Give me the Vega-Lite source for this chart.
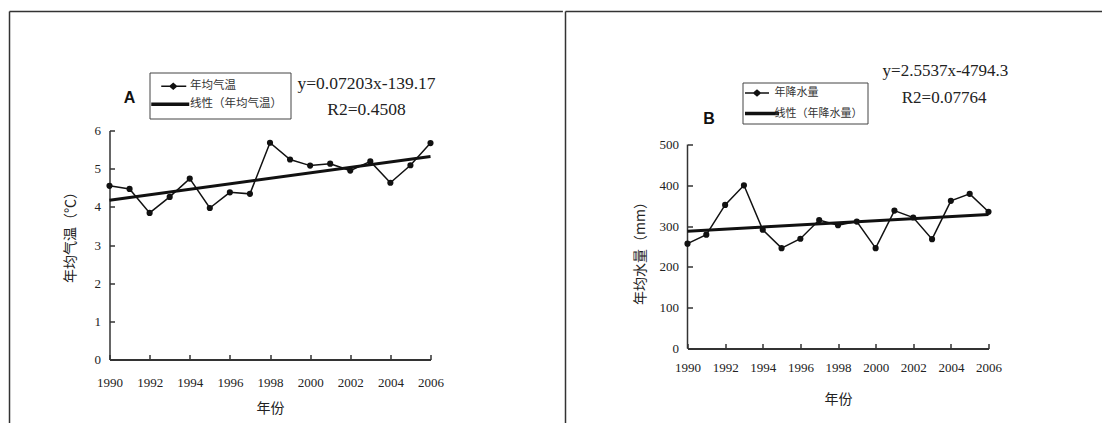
{
  "$schema": "https://vega.github.io/schema/vega-lite/v6.json",
  "padding": {"left": 8.5, "top": 10.5, "right": 0, "bottom": 0},
  "autosize": {"type": "pad"},
  "background": "white",
  "spacing": 0,
  "datasets": {
    "temp": [
      {"year": 1990, "temp": 4.55}, {"year": 1991, "temp": 4.47}, {"year": 1992, "temp": 3.84},
      {"year": 1993, "temp": 4.26}, {"year": 1994, "temp": 4.74}, {"year": 1995, "temp": 3.97},
      {"year": 1996, "temp": 4.38}, {"year": 1997, "temp": 4.34}, {"year": 1998, "temp": 5.68},
      {"year": 1999, "temp": 5.24}, {"year": 2000, "temp": 5.08}, {"year": 2001, "temp": 5.13},
      {"year": 2002, "temp": 4.95}, {"year": 2003, "temp": 5.19}, {"year": 2004, "temp": 4.63},
      {"year": 2005, "temp": 5.09}, {"year": 2006, "temp": 5.67}
    ],
    "tempTrend": [{"year": 1990, "temp": 4.17}, {"year": 2006, "temp": 5.32}],
    "tempLegend": [{"series": "年均气温"}, {"series": "线性（年均气温）"}],
    "precip": [
      {"year": 1990, "precip": 257}, {"year": 1991, "precip": 279}, {"year": 1992, "precip": 352},
      {"year": 1993, "precip": 400}, {"year": 1994, "precip": 291}, {"year": 1995, "precip": 246},
      {"year": 1996, "precip": 269}, {"year": 1997, "precip": 315}, {"year": 1998, "precip": 302},
      {"year": 1999, "precip": 311}, {"year": 2000, "precip": 246}, {"year": 2001, "precip": 338},
      {"year": 2002, "precip": 321}, {"year": 2003, "precip": 268}, {"year": 2004, "precip": 362},
      {"year": 2005, "precip": 379}, {"year": 2006, "precip": 335}
    ],
    "precipTrend": [{"year": 1990, "precip": 287.6}, {"year": 2006, "precip": 328.4}],
    "precipLegend": [{"series": "年降水量"}, {"series": "线性（年降水量）"}]
  },
  "hconcat": [
    {
      "width": 321,
      "height": 229,
      "layer": [
        {
          "data": {"values": [{}]},
          "mark": {"type": "rule", "color": "#333", "strokeWidth": 1.5},
          "encoding": {
            "x": {"datum": 1985.016, "type": "quantitative"},
            "y": {"datum": 9.118, "type": "quantitative"},
            "y2": {"datum": -2}
          }
        },
        {
          "data": {"values": [{}]},
          "mark": {"type": "rule", "color": "#333", "strokeWidth": 1.5},
          "encoding": {
            "x": {"datum": 1985.016, "type": "quantitative"},
            "x2": {"datum": 2012.6},
            "y": {"datum": 9.118, "type": "quantitative"}
          }
        },
        {
          "data": {"name": "temp"},
          "mark": {"type": "line", "color": "#111", "strokeWidth": 1.5},
          "encoding": {
            "x": {
              "field": "year", "type": "quantitative",
              "scale": {"domain": [1990, 2006], "nice": false, "zero": false},
              "axis": {
                "title": "年份", "values": [1990, 1992, 1994, 1996, 1998, 2000, 2002, 2004, 2006],
                "tickCount": 50,
                "format": "d", "labelPadding": 21.5, "titlePadding": 12, "domainWidth": 2,
                "labelOverlap": false, "labelFlush": false
              }
            },
            "y": {
              "field": "temp", "type": "quantitative",
              "scale": {"domain": [0, 6], "nice": false, "zero": true},
              "axis": {
                "title": "年均气温（℃）", "values": [0, 1, 2, 3, 4, 5, 6], "tickCount": 50,
                "format": "d", "titleY": 103,
                "labelPadding": 14, "titlePadding": 17, "labelOverlap": false, "labelFlush": false
              }
            }
          }
        },
        {
          "data": {"name": "temp"},
          "mark": {"type": "point", "shape": "circle", "filled": true, "color": "#111", "size": 38, "opacity": 1},
          "encoding": {
            "x": {"field": "year", "type": "quantitative"},
            "y": {"field": "temp", "type": "quantitative"}
          }
        },
        {
          "data": {"name": "tempTrend"},
          "mark": {"type": "line", "color": "#111", "strokeWidth": 3},
          "encoding": {
            "x": {"field": "year", "type": "quantitative"},
            "y": {"field": "temp", "type": "quantitative"}
          }
        },
        {
          "data": {"name": "tempLegend"},
          "mark": {"type": "point", "filled": true, "color": "#111", "opacity": 0},
          "encoding": {
            "shape": {
              "field": "series", "type": "nominal",
              "scale": {
                "domain": ["年均气温", "线性（年均气温）"],
                "range": [
                  "M-2,-0.15H-0.3L0.4,-0.75L1.1,-0.15H3V0.15H1.1L0.4,0.75L-0.3,0.15H-2Z",
                  "M-4,-0.35H3.6V0.35H-4Z"
                ]
              },
              "legend": {
                "title": null, "orient": "none", "legendX": 40, "legendY": -58,
                "strokeColor": "#444", "padding": 8, "rowPadding": 5,
                "symbolSize": 100, "symbolOffset": 8, "labelOffset": 13,
                "symbolFillColor": "#111", "symbolStrokeWidth": 0, "symbolOpacity": 1,
                "labelFont": "Noto Sans CJK SC", "labelFontSize": 11.5, "labelColor": "#333"
              }
            }
          }
        },
        {
          "data": {"values": [{}]},
          "mark": {"type": "text", "text": "A", "font": "Liberation Sans", "fontWeight": "bold", "fontSize": 16, "color": "#111"},
          "encoding": {
            "x": {"datum": 1991.0, "type": "quantitative"},
            "y": {"datum": 6.85, "type": "quantitative"}
          }
        },
        {
          "data": {"values": [{}]},
          "mark": {"type": "text", "text": "y=0.07203x-139.17", "font": "Liberation Serif", "fontSize": 17.5, "color": "#222"},
          "encoding": {
            "x": {"datum": 2002.81, "type": "quantitative"},
            "y": {"datum": 7.218, "type": "quantitative"}
          }
        },
        {
          "data": {"values": [{}]},
          "mark": {"type": "text", "text": "R2=0.4508", "font": "Liberation Serif", "fontSize": 17.5, "color": "#222"},
          "encoding": {
            "x": {"datum": 2002.81, "type": "quantitative"},
            "y": {"datum": 6.537, "type": "quantitative"}
          }
        }
      ]
    },
    {
      "width": 301,
      "height": 218,
      "layer": [
        {
          "data": {"values": [{}]},
          "mark": {"type": "rule", "color": "#333", "strokeWidth": 1.5},
          "encoding": {
            "x": {"datum": 1983.515, "type": "quantitative"},
            "y": {"datum": 826, "type": "quantitative"},
            "y2": {"datum": -250}
          }
        },
        {
          "data": {"values": [{}]},
          "mark": {"type": "rule", "color": "#333", "strokeWidth": 1.5},
          "encoding": {
            "x": {"datum": 1983.515, "type": "quantitative"},
            "x2": {"datum": 2013},
            "y": {"datum": 826, "type": "quantitative"}
          }
        },
        {
          "data": {"values": [{}]},
          "mark": {"type": "rule", "color": "#333", "strokeWidth": 1.5},
          "encoding": {
            "x": {"datum": 1990, "type": "quantitative"},
            "y": {"datum": 0, "type": "quantitative"},
            "y2": {"datum": 500}
          }
        },
        {
          "data": {"name": "precip"},
          "mark": {"type": "line", "color": "#111", "strokeWidth": 1.5},
          "encoding": {
            "x": {
              "field": "year", "type": "quantitative",
              "scale": {"domain": [1990, 2006], "nice": false, "zero": false},
              "axis": {
                "title": "年份", "values": [1990, 1992, 1994, 1996, 1998, 2000, 2002, 2004, 2006],
                "tickCount": 50,
                "format": "d", "labelPadding": 18, "titlePadding": 18, "domainWidth": 2,
                "labelOverlap": false, "labelFlush": false
              }
            },
            "y": {
              "field": "precip", "type": "quantitative",
              "scale": {"domain": [0, 534.31], "nice": false, "zero": true},
              "axis": {
                "title": "年均水量（mm）", "values": [0, 100, 200, 300, 400, 500], "tickCount": 50,
                "format": "d", "titleY": 119,
                "labelPadding": 14, "titlePadding": 12, "domain": false,
                "labelOverlap": false, "labelFlush": false
              }
            }
          }
        },
        {
          "data": {"name": "precip"},
          "mark": {"type": "point", "shape": "circle", "filled": true, "color": "#111", "size": 38, "opacity": 1},
          "encoding": {
            "x": {"field": "year", "type": "quantitative"},
            "y": {"field": "precip", "type": "quantitative"}
          }
        },
        {
          "data": {"name": "precipTrend"},
          "mark": {"type": "line", "color": "#111", "strokeWidth": 3},
          "encoding": {
            "x": {"field": "year", "type": "quantitative"},
            "y": {"field": "precip", "type": "quantitative"}
          }
        },
        {
          "data": {"name": "precipLegend"},
          "mark": {"type": "point", "filled": true, "color": "#111", "opacity": 0},
          "encoding": {
            "shape": {
              "field": "series", "type": "nominal",
              "scale": {
                "domain": ["年降水量", "线性（年降水量）"],
                "range": [
                  "M-3,-0.15H-1.3L-0.6,-0.75L0.1,-0.15H1.8V0.15H0.1L-0.6,0.75L-1.3,0.15H-3Z",
                  "M-3,-0.35H3.8V0.35H-3Z"
                ]
              },
              "legend": {
                "title": null, "orient": "none", "legendX": 55, "legendY": -48,
                "strokeColor": "#444", "padding": 5, "rowPadding": 8.5,
                "symbolSize": 100, "symbolOffset": 7, "labelOffset": 9,
                "symbolFillColor": "#111", "symbolStrokeWidth": 0, "symbolOpacity": 1,
                "labelFont": "Noto Sans CJK SC", "labelFontSize": 11, "labelColor": "#333"
              }
            }
          }
        },
        {
          "data": {"values": [{}]},
          "mark": {"type": "text", "text": "B", "font": "Liberation Sans", "fontWeight": "bold", "fontSize": 16, "color": "#111"},
          "encoding": {
            "x": {"datum": 1991.14, "type": "quantitative"},
            "y": {"datum": 563, "type": "quantitative"}
          }
        },
        {
          "data": {"values": [{}]},
          "mark": {"type": "text", "text": "y=2.5537x-4794.3", "font": "Liberation Serif", "fontSize": 17, "color": "#222"},
          "encoding": {
            "x": {"datum": 2003.71, "type": "quantitative"},
            "y": {"datum": 679, "type": "quantitative"}
          }
        },
        {
          "data": {"values": [{}]},
          "mark": {"type": "text", "text": "R2=0.07764", "font": "Liberation Serif", "fontSize": 17, "color": "#222"},
          "encoding": {
            "x": {"datum": 2003.64, "type": "quantitative"},
            "y": {"datum": 614, "type": "quantitative"}
          }
        }
      ]
    }
  ],
  "resolve": {"scale": {"shape": "independent"}, "legend": {"shape": "independent"}},
  "config": {
    "view": {"stroke": null},
    "axis": {
      "grid": false,
      "domainColor": "#333", "domainWidth": 1.5,
      "tickColor": "#333", "tickWidth": 1.5, "tickSize": -5,
      "labelFont": "Liberation Serif", "labelFontSize": 13, "labelColor": "#222",
      "labelFlush": false, "labelOverlap": false,
      "titleFont": "Noto Sans CJK SC", "titleFontSize": 14, "titleFontWeight": "normal", "titleColor": "#222"
    }
  }
}
